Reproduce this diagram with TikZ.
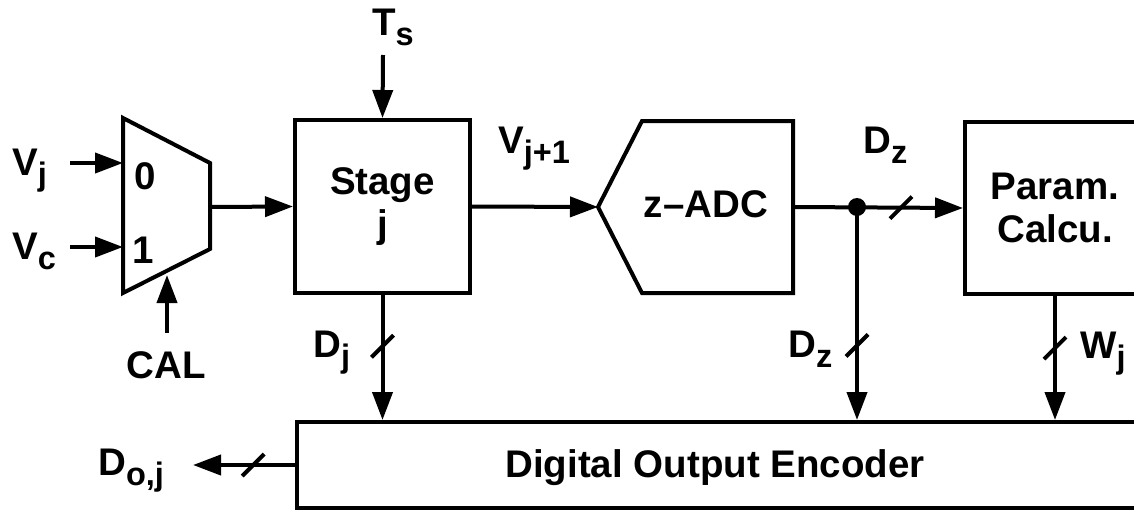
\documentclass[tikz,border=0pt]{standalone}
\usepackage{fontspec}
\setmainfont{Liberation Sans}
\usetikzlibrary{arrows.meta}
\newcommand\lsub[1]{\raisebox{-10pt}{\fontsize{32.5}{32.5}\selectfont #1}}
\tikzset{
  wire/.style={line width=4pt},
  arr/.style={wire, -{Triangle[length=28pt,width=20pt]}},
  lbl/.style={font=\fontsize{38.5}{43}\selectfont\bfseries, inner sep=0pt},
  blk/.style={draw, line width=4pt, lbl, align=center, minimum width=175, minimum height=173},
}
\newcommand\busbar[1]{\draw[wire] (#1) ++(-11,11) -- ++(22,-22);}

\begin{document}
\begin{tikzpicture}[x=1pt,y=-1pt]
\useasboundingbox (0,0) rectangle (1134,514);
\clip (0,0) rectangle (1134,514);

\coordinate (mtl) at (123,118);
\coordinate (mtr) at (210,163);
\coordinate (mbr) at (210,249);
\coordinate (mbl) at (123,293);
\coordinate (mux0) at (123,163);
\coordinate (mux1) at (123,247);
\coordinate (muxout) at (210,207);
\draw[wire] (mtl) -- (mtr) -- (mbr) -- (mbl) -- cycle;
\node[lbl] (in0) at (145,176) {0};
\node[lbl] (in1) at (143,250) {1};

\node[blk] (stage) at (382.5,206.5) {Stage\\j};

\coordinate (zin) at (598,207);
\coordinate (zout) at (793,207);
\draw[wire] (zin) -- (642,121) -- (793,121) -- (793,293) -- (642,293) -- cycle;
\node[lbl, anchor=base] (zlbl) at (706,217) {z--ADC};

\node[blk, anchor=north west, minimum width=180, minimum height=172] (param) at (963,120) {Param.\\Calcu.};

\node[draw, wire, anchor=west, minimum width=880, minimum height=86] (enc) at (295,465) {};
\node[lbl, anchor=base] (enclbl) at (715,477) {Digital Output Encoder};

\node[lbl, anchor=base west] (vj) at (12,175) {V\lsub{j}};
\node[lbl, anchor=base west] (vc) at (12,259) {V\lsub{c}};
\node[lbl, anchor=base] (cal) at (166,378) {CAL};
\node[lbl, anchor=base west] (ts) at (372,35) {T\lsub{s}};
\node[lbl, anchor=base west] (vjp) at (498,153) {V\lsub{j+1}};
\node[lbl, anchor=base west] (dj) at (313,357) {D\lsub{j}};
\node[lbl, anchor=base west] (dzt) at (863,153) {D\lsub{z}};
\node[lbl, anchor=base west] (dzb) at (788,357) {D\lsub{z}};
\node[lbl, anchor=base west] (wj) at (1080,358) {W\lsub{j}};
\node[lbl, anchor=base west] (doj) at (98,475) {D\lsub{o,j}};

\coordinate (vjsrc) at (70,163);
\coordinate (vcsrc) at (70,247);
\coordinate (calsrc) at (167,333);
\coordinate (calin) at (167,275);
\coordinate (tssrc) at (383,55);
\coordinate (tap) at (857,207);
\coordinate (dout) at (193,465);

\draw[arr] (vjsrc) -- (mux0);
\draw[arr] (vcsrc) -- (mux1);
\draw[arr] (calsrc) -- (calin);
\draw[arr] (muxout) -- (stage.west);
\draw[arr] (tssrc) -- (stage.north);
\draw[arr] (stage.east) -- (zin);
\draw[arr] (zout) -- coordinate[pos=.635] (dztbus) (param.west);
\fill (tap) circle (9);
\draw[arr] (stage.south) -- coordinate[pos=.41] (djbus) (stage.south |- enc.north);
\draw[arr] (tap) -- coordinate[pos=.65] (dzbbus) (tap |- enc.north);
\draw[arr] (param.south) -- coordinate[pos=.42] (wjbus) (param.south |- enc.north);
\draw[arr] (enc.west) -- coordinate[pos=.41] (dojbus) (dout);
\busbar{dztbus}
\busbar{djbus}
\busbar{dzbbus}
\busbar{wjbus}
\busbar{dojbus}
\end{tikzpicture}
\end{document}
